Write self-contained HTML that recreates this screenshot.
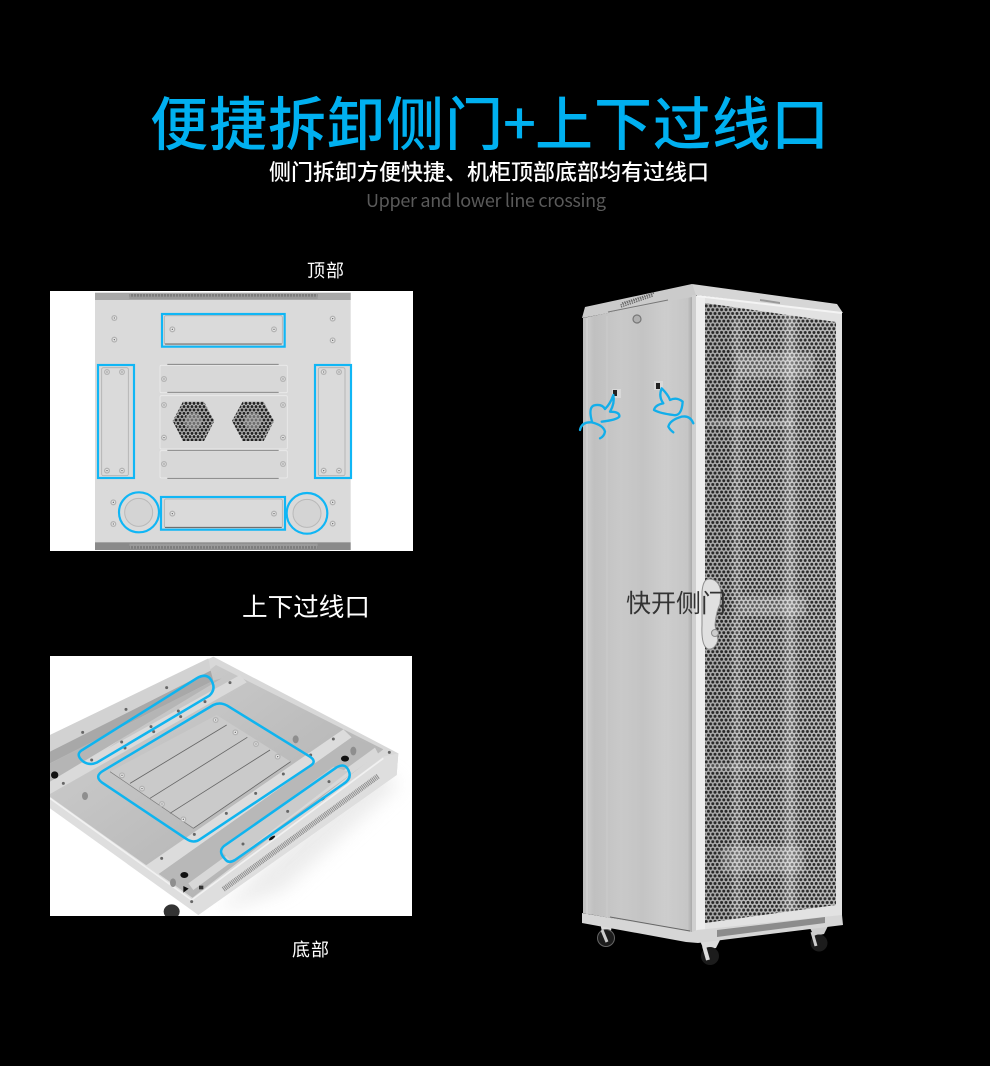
<!DOCTYPE html>
<html><head><meta charset="utf-8"><style>
html,body{margin:0;padding:0;background:#000;width:990px;height:1066px;overflow:hidden}
svg{display:block}
text{font-family:"Liberation Sans","Noto Sans CJK SC",sans-serif}
.c{font-family:"Noto Sans CJK SC","Liberation Sans",sans-serif}
</style></head><body>
<svg width="990" height="1066" viewBox="0 0 990 1066" xmlns="http://www.w3.org/2000/svg">
<defs>
<pattern id="mesh" width="4.4" height="7.6" patternUnits="userSpaceOnUse">
<rect width="4.4" height="7.6" fill="#bdbdbd"/>
<circle cx="2.2" cy="1.9" r="1.5" fill="#2c2c2c"/>
<circle cx="0" cy="5.7" r="1.5" fill="#2c2c2c"/>
<circle cx="4.4" cy="5.7" r="1.5" fill="#2c2c2c"/>
</pattern>
<pattern id="fan" width="12" height="20" patternUnits="userSpaceOnUse">
<rect width="12" height="20" fill="#cfcfcf"/>
<circle cx="6" cy="5" r="4.6" fill="#222"/><circle cx="0" cy="15" r="4.6" fill="#222"/><circle cx="12" cy="15" r="4.6" fill="#222"/>
</pattern>
<pattern id="vent" width="9" height="20" patternUnits="userSpaceOnUse"><rect width="9" height="20" fill="#9a9a9a"/><rect x="1" y="3" width="4" height="12" fill="#6e6e6e"/></pattern>
<linearGradient id="side" x1="0" x2="1" y1="0" y2="0">
<stop offset="0" stop-color="#c0c0c0"/><stop offset=".06" stop-color="#c8c8c8"/><stop offset=".1" stop-color="#c0c0c0"/><stop offset=".35" stop-color="#c9c9c9"/><stop offset=".55" stop-color="#c4c4c4"/><stop offset=".75" stop-color="#cdcdcd"/><stop offset=".96" stop-color="#c6c6c6"/><stop offset="1" stop-color="#aaa"/>
</linearGradient>
<linearGradient id="floor" x1="0" x2="1" y1="0" y2="1">
<stop offset="0" stop-color="#d2d2d2"/><stop offset=".6" stop-color="#bababa"/><stop offset="1" stop-color="#adadad"/>
</linearGradient>
<linearGradient id="band" x1="0" x2="1" y1="0" y2="0"><stop offset="0" stop-color="#fff" stop-opacity="0"/><stop offset=".5" stop-color="#fff" stop-opacity=".3"/><stop offset="1" stop-color="#fff" stop-opacity="0"/></linearGradient>
<clipPath id="meshclip"><polygon points="705,303 836,322 836,905 705,923"/></clipPath>
<clipPath id="p2clip"><rect x="0" y="18" width="1086" height="780"/></clipPath>
<filter id="b1"><feGaussianBlur stdDeviation="1.5"/></filter>
<filter id="b2" x="-30%" y="-30%" width="160%" height="160%"><feGaussianBlur stdDeviation="28"/></filter>
<g id="screw"><circle r="9" fill="#b4b4b4"/><circle r="5" fill="#e6e6e6"/><circle r="2" fill="#666"/></g>
<g id="bolt"><circle r="4.5" fill="#666"/></g>
</defs>
<rect width="990" height="1066" fill="#000"/>

<!-- Heading -->
<text class="c" x="150 209 268 327 386 445 503 535 594 653 712 771" y="145" font-size="58" font-weight="500" fill="#00b0f0">便捷拆卸侧门+上下过线口</text>
<text class="c" x="269" y="180" font-size="22" font-weight="500" fill="#fff" textLength="440" lengthAdjust="spacing">侧门拆卸方便快捷、机柜顶部底部均有过线口</text>
<text class="c" x="366" y="207" font-size="18" fill="#5a5a5a" textLength="240" lengthAdjust="spacing">Upper and lower line crossing</text>
<text class="c" x="307" y="277" font-size="18" fill="#fff" textLength="37">顶部</text>
<text class="c" x="242" y="616" font-size="25.6" fill="#fff" textLength="128">上下过线口</text>
<text class="c" x="292" y="956" font-size="18" fill="#fff" textLength="37">底部</text>

<!-- Top photo -->
<rect x="50" y="291" width="363" height="260" fill="#fff"/>
<g transform="translate(50,285) scale(.33333)">
<rect x="135" y="22" width="767" height="773" fill="#dadada"/>
<rect x="135" y="24" width="767" height="21" fill="#a8a8a8"/>
<rect x="238" y="27" width="565" height="15" fill="url(#vent)"/>
<rect x="135" y="772" width="767" height="23" fill="#8a8a8a"/>
<rect x="238" y="776" width="565" height="15" fill="url(#vent)"/>
<g fill="#d8d8d8" stroke="#ebebeb" stroke-width="2.5">
<rect x="330" y="241" width="382" height="82" rx="4"/>
<rect x="330" y="332" width="382" height="160" rx="4"/>
<rect x="330" y="497" width="382" height="82" rx="4"/>
</g>
<path d="M352 238H686M352 322H686M352 496H686M352 580H686" stroke="#777" stroke-width="2.5" fill="none"/>
<g fill="url(#fan)">
<polygon points="368,408 399,350 462,350 493,408 462,468 399,468"/>
<polygon points="546,408 578,350 641,350 672,408 641,468 578,468"/>
</g>
<ellipse cx="430" cy="408" rx="26" ry="26" fill="#aaa" opacity=".55"/>
<ellipse cx="609" cy="408" rx="26" ry="26" fill="#aaa" opacity=".55"/>
<g fill="#dadada" stroke="#b0b0b0" stroke-width="2.5">
<rect x="343" y="92" width="354" height="86" rx="5"/>
<rect x="343" y="642" width="354" height="86" rx="5"/>
<rect x="155" y="248" width="80" height="324" rx="5"/>
<rect x="805" y="248" width="80" height="324" rx="5"/>
</g>
<path d="M345 177H695M345 727H695" stroke="#666" stroke-width="3"/>
<g fill="#d4d4d4" stroke="#b9b9b9" stroke-width="3"><circle cx="266" cy="682" r="42"/><circle cx="771" cy="685" r="42"/></g>
<g>
<use href="#screw" x="193" y="99"/><use href="#screw" x="193" y="164"/><use href="#screw" x="848" y="101"/><use href="#screw" x="848" y="166"/>
<use href="#screw" x="367" y="133"/><use href="#screw" x="672" y="133"/><use href="#screw" x="367" y="686"/><use href="#screw" x="672" y="686"/>
<use href="#screw" x="171" y="261"/><use href="#screw" x="216" y="261"/><use href="#screw" x="171" y="557"/><use href="#screw" x="216" y="557"/>
<use href="#screw" x="821" y="261"/><use href="#screw" x="867" y="261"/><use href="#screw" x="821" y="557"/><use href="#screw" x="867" y="557"/>
<use href="#screw" x="342" y="282"/><use href="#screw" x="699" y="282"/><use href="#screw" x="342" y="360"/><use href="#screw" x="699" y="360"/>
<use href="#screw" x="342" y="458"/><use href="#screw" x="699" y="458"/><use href="#screw" x="342" y="537"/><use href="#screw" x="699" y="537"/>
<use href="#screw" x="190" y="652"/><use href="#screw" x="190" y="717"/><use href="#screw" x="848" y="652"/><use href="#screw" x="848" y="716"/>
</g>
<g fill="none" stroke="#10b6f5" stroke-width="6.5">
<rect x="336" y="87" width="368" height="98"/>
<rect x="333" y="636" width="372" height="98"/>
<rect x="144" y="240" width="108" height="339"/>
<rect x="795" y="240" width="108" height="339"/>
<circle cx="267" cy="682" r="60"/><circle cx="771" cy="685" r="61"/>
</g>
</g>

<!-- Bottom photo -->
<rect x="50" y="656" width="362" height="260" fill="#fff"/>
<g transform="translate(50,650) scale(.33333)" clip-path="url(#p2clip)">
<polygon points="950,340 1050,400 700,720 500,790" fill="#dcdcdc" opacity=".55" filter="url(#b2)"/>
<polygon points="0,255 490,20 1045,310 1040,375 445,795 0,445" fill="#d8d8d8"/>
<polygon points="0,430 498,45 1000,298 425,745 0,440" fill="url(#floor)"/>
<polygon points="0,255 475,25 482,62 0,305" fill="#d2d2d2"/>
<polygon points="0,305 482,62 490,92 0,340" fill="#a8a8a8"/>
<polygon points="0,392 570,75 590,97 0,432" fill="#dadada"/>
<polygon points="0,340 490,92 515,85 0,395" fill="#b5b5b5"/>
<polygon points="275,655 880,238 905,262 315,680" fill="#dcdcdc"/>
<polygon points="315,680 905,262 985,295 425,705" fill="#b8b8b8"/>
<polygon points="415,700 975,293 985,312 430,720" fill="#d8d8d8"/>
<polygon points="510,600 850,350 895,365 545,635" fill="#cbcbcb"/>
<polygon points="0,442 430,745 1000,320 1045,310 1040,375 445,795 0,475" fill="#dedede"/>
<path d="M0 445L425 750L1000 325" fill="none" stroke="#f1f1f1" stroke-width="5"/>
<path d="M520 718L985 378" stroke="#8e8e8e" stroke-width="16" stroke-dasharray="3 2.5" fill="none"/>
<polygon points="180,365 500,195 722,335 430,535" fill="#cacaca"/>
<path d="M240 400L530 225M300 445L592 262M360 490L660 300M430 535L722 335" stroke="#666" stroke-width="2.5" fill="none"/>
<path d="M180 365L430 535" stroke="#7a7a7a" stroke-width="2" fill="none"/>
<g>
<use href="#screw" x="497" y="210"/><use href="#screw" x="556" y="247"/><use href="#screw" x="618" y="282"/><use href="#screw" x="683" y="320"/>
<use href="#screw" x="216" y="376"/><use href="#screw" x="276" y="416"/><use href="#screw" x="336" y="462"/><use href="#screw" x="400" y="508"/>
</g>
<g>
<use href="#bolt" x="228" y="178"/><use href="#bolt" x="350" y="113"/><use href="#bolt" x="98" y="247"/><use href="#bolt" x="385" y="183"/><use href="#bolt" x="303" y="230"/><use href="#bolt" x="215" y="276"/><use href="#bolt" x="125" y="330"/><use href="#bolt" x="540" y="98"/><use href="#bolt" x="465" y="155"/>
<use href="#bolt" x="392" y="200"/><use href="#bolt" x="311" y="245"/><use href="#bolt" x="225" y="294"/><use href="#bolt" x="40" y="400"/>
<use href="#bolt" x="850" y="267"/><use href="#bolt" x="782" y="315"/><use href="#bolt" x="700" y="372"/><use href="#bolt" x="617" y="430"/><use href="#bolt" x="529" y="490"/><use href="#bolt" x="433" y="553"/><use href="#bolt" x="335" y="625"/>
<use href="#bolt" x="837" y="395"/><use href="#bolt" x="713" y="484"/><use href="#bolt" x="579" y="582"/><use href="#bolt" x="425" y="755"/><use href="#bolt" x="1018" y="307"/>
</g>
<circle cx="14" cy="375" r="11" fill="#111"/><ellipse cx="885" cy="326" rx="12" ry="9" fill="#111"/><ellipse cx="403" cy="675" rx="12" ry="9" fill="#111"/>
<ellipse cx="737" cy="268" rx="9" ry="12" fill="#8e8e8e"/><ellipse cx="105" cy="438" rx="9" ry="12" fill="#8e8e8e"/><ellipse cx="910" cy="303" rx="9" ry="13" fill="#8e8e8e"/><ellipse cx="369" cy="698" rx="9" ry="13" fill="#8e8e8e"/>
<ellipse cx="365" cy="785" rx="24" ry="22" fill="#333"/>
<polygon points="400,708 416,716 400,728" fill="#111"/><rect x="447" y="707" width="13" height="11" fill="#333"/>
<ellipse cx="818" cy="446" rx="11" ry="4" fill="#111" transform="rotate(-35 818 446)"/><ellipse cx="666" cy="564" rx="11" ry="4" fill="#111" transform="rotate(-35 666 564)"/>
<g fill="none" stroke="#0fb4ef" stroke-width="7.5" stroke-linejoin="round">
<path d="M160 362L490 165Q510 155 532 167L780 320Q802 335 780 348L450 568Q430 582 408 566L155 397Q132 378 160 362Z"/>
<path d="M100 298L440 85Q465 70 480 85Q502 115 478 137L140 338Q120 347 100 335Q72 312 100 298Z"/>
<path d="M522 588L860 352Q885 338 895 360Q908 385 880 402L555 630Q535 642 525 627Q503 605 522 588Z"/>
</g>
</g>

<!-- Cabinet -->
<g>
<!-- casters -->
<g>
<path d="M600 922L612 924L611 931L602 932Z" fill="#ddd"/><circle cx="606" cy="938" r="8.5" fill="#1c1c1c" stroke="#666" stroke-width="1"/><path d="M602 930L607 942" stroke="#ccc" stroke-width="3"/>
<path d="M700 941L720 940L716 948L704 950Z" fill="#ddd"/><circle cx="710" cy="956" r="9" fill="#1c1c1c"/><path d="M704 946L708 960" stroke="#ddd" stroke-width="4"/>
<path d="M810 928L828 926L824 934L814 936Z" fill="#ccc"/><circle cx="819" cy="943" r="8.5" fill="#1c1c1c"/><path d="M812 932L816 946" stroke="#ccc" stroke-width="3"/>
</g>
<!-- side panel -->
<polygon points="583,318 692,296 692,933 583,913" fill="url(#side)"/>
<path d="M587 318V914" stroke="#d2d2d2" stroke-width="1.5"/>
<path d="M607 316V917M668 303V930" stroke="#d0d0d0" stroke-width="1" opacity=".6"/>
<!-- top cap -->
<polygon points="582,318 585,307 692,284 697,295 692,297" fill="#cbcbcb"/>
<path d="M608 312L668 300" stroke="#777" stroke-width="1"/>
<g stroke="#666" stroke-width="1.4" stroke-dasharray="1.3 1" fill="none"><path d="M621 307L653 296M620.5 305L652.5 294.5M622 303L654 293"/></g>
<!-- door frame -->
<polygon points="692,295 842,313 842,916 692,933" fill="#e2e2e2"/>
<polygon points="692,295 696,295 696,933 692,933" fill="#cfcfcf"/>
<polygon points="696,296 705,297 705,930 696,932" fill="#ededed"/>
<polygon points="692,284 837,304 843,313 696,295" fill="#d6d6d6"/>
<path d="M697 296L842 313" stroke="#f4f4f4" stroke-width="2"/>
<polygon points="760,299 780,302 780,304 760,301" fill="#999"/>
<!-- mesh -->
<polygon points="705,303 836,322 836,905 705,923" fill="url(#mesh)"/>
<g clip-path="url(#meshclip)">
<rect x="705" y="300" width="26" height="625" fill="#000" opacity=".08"/>
<rect x="780" y="300" width="20" height="625" fill="url(#band)"/>
<rect x="731" y="320" width="12" height="600" fill="url(#band)" opacity=".6"/>
<g fill="#fff" opacity=".22" filter="url(#b1)">
<rect x="738" y="352" width="76" height="26"/>
<rect x="708" y="420" width="85" height="6"/>
<rect x="740" y="596" width="66" height="20"/>
<rect x="708" y="764" width="85" height="6"/>
<rect x="722" y="846" width="82" height="26"/>
</g>
</g>
<!-- plinth -->
<polygon points="582,913 692,932 697,930 842,915 843,925 698,943 686,942 582,923" fill="#d6d6d6"/>
<path d="M610 917L690 931" stroke="#666" stroke-width="1"/>
<polygon points="717,930 825,917 825,923 717,937" fill="#8c8c8c"/>
<!-- lock on side -->
<circle cx="637" cy="319" r="4" fill="#b0b0b0" stroke="#777" stroke-width="1.2"/>
<rect x="612" y="389" width="9" height="9" fill="#d8d8d8"/><rect x="613" y="390" width="4" height="6" fill="#222"/>
<rect x="654" y="381" width="9" height="9" fill="#d8d8d8"/><rect x="656" y="383" width="4" height="6" fill="#222"/>
<!-- handle -->
<path d="M709 579Q719 579 721 592L720 604Q716 612 715 625L718 640Q715 650 708 649Q701 646 702 625V592Q703 579 709 579Z" fill="#e0e0e0" stroke="#8d8d8d" stroke-width="1"/>
<circle cx="715" cy="633" r="3.5" fill="#ccc" stroke="#8a8a8a" stroke-width="1"/>
<!-- hands -->
<g transform="translate(570,275) scale(.33333)" fill="none" stroke="#12aeea" stroke-width="7" stroke-linecap="round" stroke-linejoin="round">
<path d="M30 465Q35 440 65 442Q100 450 105 470Q102 485 90 490"/>
<path d="M66 440Q55 400 70 392Q95 385 105 402Q122 385 130 360Q135 385 120 410Q150 410 148 425Q140 435 95 440"/>
<path d="M275 340Q265 365 280 385Q255 390 252 405Q270 415 310 420Q335 425 338 380Q320 365 300 375Q295 360 275 340Z"/>
<path d="M370 445Q360 420 335 425Q300 435 295 455Q300 465 310 472"/>
</g>
</g>
<text class="c" x="626" y="612" font-size="25" fill="#333" textLength="100">快开侧门</text>
</svg>
</body></html>
